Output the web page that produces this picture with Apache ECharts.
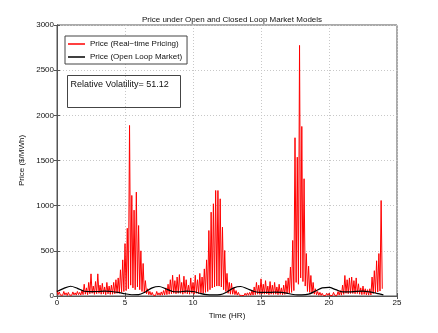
<!DOCTYPE html>
<html>
<head>
<meta charset="utf-8">
<script src="https://cdn.jsdelivr.net/npm/echarts@6/dist/echarts.min.js"></script>
<style>
  html, body { margin: 0; padding: 0; background: #fff; }
  #app { width: 438px; height: 333px; }
</style>
</head>
<body>
<div id="app"></div>
<script>
const myChart = echarts.init(document.getElementById('app'));

// red series: spike value then dip value, every 5 minutes (1/12 hr)
const step = 1 / 12;
const rtPeaks = [
  60, 45, 30, 50, 35, 40,
  30, 45, 35, 50, 40, 60,
  130, 90, 150, 245, 110, 160,
  245, 120, 140, 100, 150, 110,
  120, 150, 180, 200, 290, 400,
  580, 750, 1888, 1113, 950, 1150,
  780, 500, 360, 170, 80, 50,
  40, 30, 50, 35, 45, 60,
  90, 130, 180, 230, 170, 210,
  237, 150, 219, 180, 120, 200,
  150, 230, 180, 250, 210, 300,
  400, 725, 928, 1021, 1168, 1168,
  1076, 762, 504, 250, 150, 140,
  90, 60, 40, 30, 25, 30,
  35, 40, 60, 100, 150, 120,
  190, 130, 170, 110, 160, 120,
  150, 100, 130, 90, 120, 170,
  200, 320, 615, 1752, 1537, 2774,
  1877, 1298, 470, 330, 227, 150,
  80, 50, 40, 30, 25, 30,
  30, 25, 40, 30, 50, 60,
  120, 227, 180, 200, 210, 170,
  200, 135, 90, 110, 80, 70,
  80, 210, 280, 390, 470, 1057
];
const rtDips = [
  15, 10, 8, 12, 6, 10,
  8, 12, 10, 14, 10, 15,
  20, 15, 25, 30, 18, 25,
  30, 20, 22, 15, 25, 18,
  20, 25, 30, 30, 40, 50,
  60, 80, 120, 90, 70, 100,
  70, 50, 40, 25, 15, 10,
  8, 6, 10, 8, 10, 12,
  15, 20, 25, 30, 25, 30,
  30, 20, 30, 25, 20, 30,
  20, 30, 25, 35, 30, 40,
  50, 70, 90, 100, 110, 110,
  100, 70, 50, 30, 20, 20,
  15, 10, 8, 6, 5, 6,
  8, 8, 10, 15, 20, 18,
  25, 20, 22, 15, 20, 18,
  20, 15, 18, 14, 18, 25,
  30, 40, 60, 150, 130, 200,
  160, 110, 50, 40, 30, 20,
  12, 8, 6, 5, 5, 6,
  6, 5, 8, 6, 10, 10,
  18, 30, 25, 28, 28, 25,
  28, 20, 15, 18, 12, 10,
  12, 28, 35, 45, 55, 80
];

// black series: open loop market price, every half hour from 0 to 24
const olStep = 0.5;
const olPrice = [
  50, 85, 108, 85, 53, 48, 50, 55, 50, 40,
  25, 14, 15, 45, 90, 105, 80, 50, 45, 55,
  50, 30, 15, 12, 15, 45, 90, 105, 80, 50,
  40, 40, 42, 40, 28, 14, 12, 20, 55, 90,
  95, 70, 45, 45, 52, 55, 45, 30, 13
];

const volatilityText = 'Relative Volatility= 51.12';

const rtData = [];
rtPeaks.forEach((v, i) => {
  rtData.push([(2 * i) * step, v]);
  rtData.push([(2 * i + 1) * step, rtDips[i]]);
});
const olData = olPrice.map((v, i) => [i * olStep, v]);

const font = 'Liberation Sans, Arial, Helvetica, sans-serif';
const axisColor = '#555';
const plain = v => String(v);

const option = {
  animation: false,
  backgroundColor: '#fff',
  title: {
    text: 'Price under Open and Closed Loop Market Models',
    left: 227,
    textAlign: 'center',
    top: 11,
    textStyle: { fontSize: 8, fontWeight: 'normal', color: '#111', fontFamily: font }
  },
  grid: {
    left: 57, right: 41, top: 25, bottom: 37,
    show: true, borderColor: axisColor, borderWidth: 1, backgroundColor: '#fff'
  },
  legend: {
    orient: 'vertical',
    left: 65, top: 36,
    padding: [4, 5, 3, 3],
    itemGap: 5,
    itemWidth: 17, itemHeight: 1.5,
    icon: 'rect',
    borderColor: '#444', borderWidth: 1, backgroundColor: '#fff',
    textStyle: { fontSize: 8, color: '#111', fontFamily: font },
    data: ['Price (Real\u2212time Pricing)', 'Price (Open Loop Market)']
  },
  graphic: [{
    type: 'group',
    left: 67, top: 75,
    children: [{
      type: 'rect',
      shape: { x: 0, y: 0, width: 113, height: 32 },
      style: { fill: '#fff', stroke: '#444', lineWidth: 1 }
    }, {
      type: 'text',
      x: 3, y: 5,
      style: { text: volatilityText, fontSize: 9, fill: '#111', fontFamily: font }
    }]
  }],
  xAxis: [{
    type: 'value', min: 0, max: 25, interval: 5,
    name: 'Time (HR)', nameLocation: 'middle', nameGap: 13,
    nameTextStyle: { fontSize: 8, color: '#111', fontFamily: font },
    axisLine: { show: true, lineStyle: { color: axisColor } },
    axisTick: { show: true, inside: true, length: 3, lineStyle: { color: axisColor } },
    axisLabel: { fontSize: 8, color: '#111', margin: 3, fontFamily: font, formatter: plain },
    splitLine: { show: true, lineStyle: { color: '#c8c8c8', type: [1, 2] } }
  }, {
    type: 'value', min: 0, max: 25, interval: 5, position: 'top',
    axisLine: { show: true, lineStyle: { color: axisColor } },
    axisTick: { show: true, inside: true, length: 3, lineStyle: { color: axisColor } },
    axisLabel: { show: false }, splitLine: { show: false }
  }],
  yAxis: [{
    type: 'value', min: 0, max: 3000, interval: 500,
    name: 'Price ($/MWh)', nameLocation: 'middle', nameGap: 25,
    nameTextStyle: { fontSize: 8, color: '#111', fontFamily: font },
    axisLine: { show: true, lineStyle: { color: axisColor } },
    axisTick: { show: true, inside: true, length: 3, lineStyle: { color: axisColor } },
    axisLabel: { fontSize: 8, color: '#111', margin: 3, fontFamily: font, formatter: plain },
    splitLine: { show: true, lineStyle: { color: '#c8c8c8', type: [1, 2] } }
  }, {
    type: 'value', min: 0, max: 3000, interval: 500, position: 'right',
    axisLine: { show: true, lineStyle: { color: axisColor } },
    axisTick: { show: true, inside: true, length: 3, lineStyle: { color: axisColor } },
    axisLabel: { show: false }, splitLine: { show: false }
  }],
  series: [{
    name: 'Price (Real\u2212time Pricing)',
    type: 'line',
    data: rtData,
    showSymbol: false,
    color: '#ff0000',
    lineStyle: { color: '#ff0000', width: 1 },
    z: 2
  }, {
    name: 'Price (Open Loop Market)',
    type: 'line',
    data: olData,
    smooth: 0.3,
    showSymbol: false,
    color: '#000',
    lineStyle: { color: '#000', width: 1.2 },
    z: 3
  }]
};

myChart.setOption(option);
</script>
</body>
</html>
